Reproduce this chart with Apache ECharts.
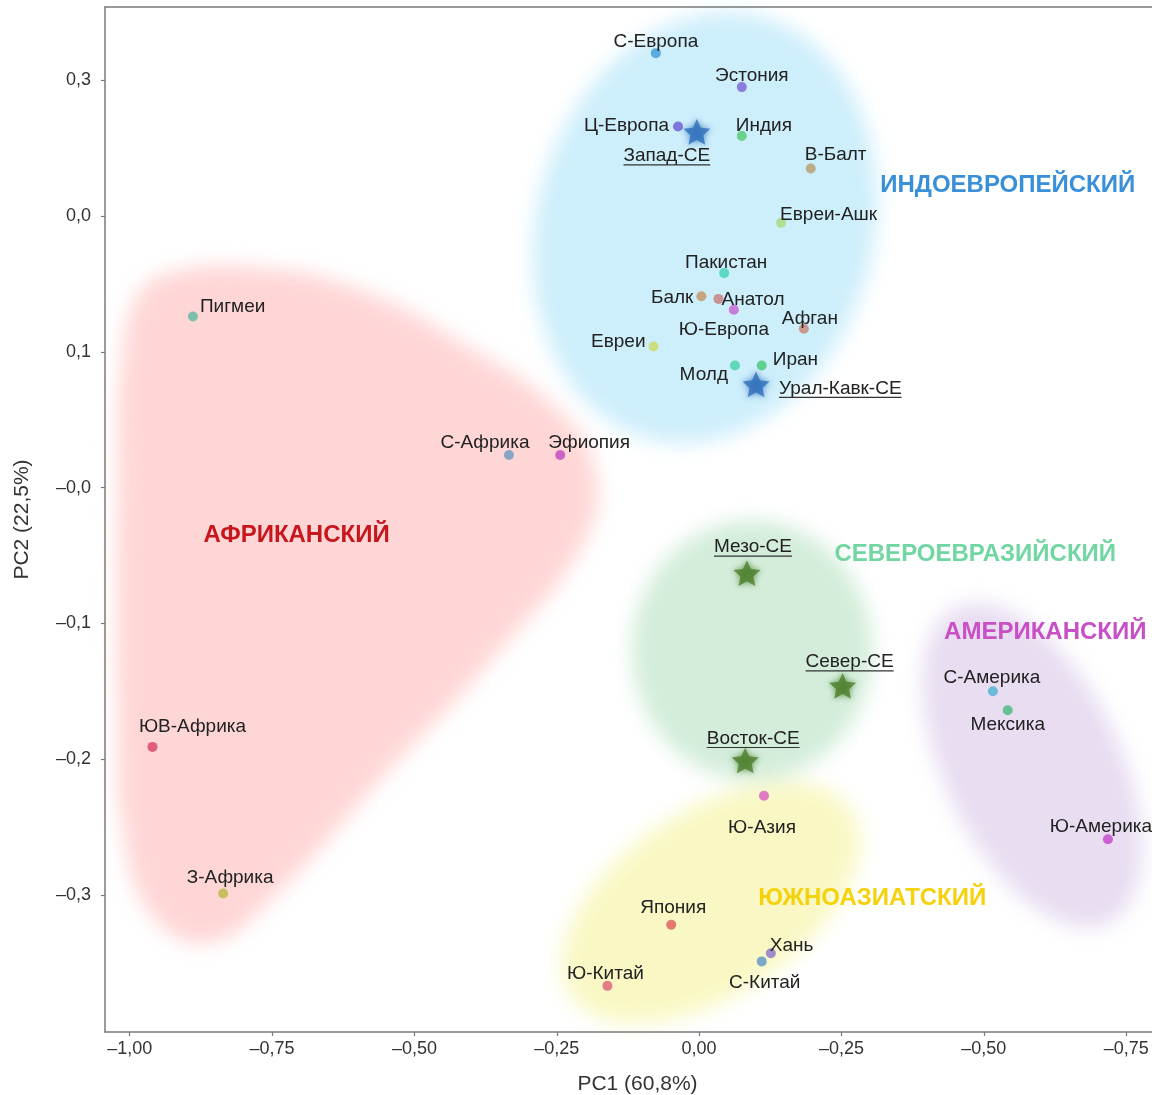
<!DOCTYPE html>
<html>
<head>
<meta charset="utf-8">
<script src="https://cdn.jsdelivr.net/npm/echarts@6/dist/echarts.min.js"></script>
<style>
  html, body { margin: 0; padding: 0; background: #fff; }
  #wrap { position: relative; width: 1152px; height: 1095px; overflow: hidden; }
  #regions, #main { position: absolute; left: 0; top: 0; width: 1152px; height: 1095px; }
  #regions { filter: blur(10px); }
</style>
</head>
<body>
<div id="wrap"><div id="regions"></div><div id="main"></div></div>
<script>
// ---- populations (PC1 / PC2 scores) ----
const popNames = ['С-Европа','Эстония','Ц-Европа','Индия','В-Балт','Евреи-Ашк','Пакистан','Балк','Анатол','Ю-Европа','Афган','Евреи','Молд','Иран','Пигмеи','С-Африка','Эфиопия','С-Америка','Мексика','Ю-Америка','ЮВ-Африка','З-Африка','Ю-Азия','Япония','Хань','С-Китай','Ю-Китай'];
const popPC1 = [-0.076, 0.075, -0.037, 0.075, 0.196, 0.144, 0.044, 0.004, 0.034, 0.061, 0.184, -0.080, 0.063, 0.110, -0.889, -0.334, -0.244, 0.516, 0.542, 0.718, -0.960, -0.836, 0.114, -0.049, 0.126, 0.110, -0.161];
const popPC2 = [0.320, 0.295, 0.266, 0.259, 0.235, 0.195, 0.158, 0.141, 0.139, 0.131, 0.117, 0.104, 0.090, 0.090, 0.126, 0.024, 0.024, -0.150, -0.164, -0.259, -0.191, -0.299, -0.227, -0.322, -0.343, -0.349, -0.367];

// ---- ancestral components (stars) ----
const compNames = ['Запад-СЕ','Урал-Кавк-СЕ','Мезо-СЕ','Север-СЕ','Восток-СЕ'];
const compPC1 = [-0.004, 0.100, 0.084, 0.252, 0.081];
const compPC2 = [0.262, 0.076, -0.063, -0.146, -0.201];

// ---- group captions ----
const groupNames = ['ИНДОЕВРОПЕЙСКИЙ','АФРИКАНСКИЙ','СЕВЕРОЕВРАЗИЙСКИЙ','АМЕРИКАНСКИЙ','ЮЖНОАЗИАТСКИЙ'];
const groupPC1 = [0.542, -0.707, 0.485, 0.608, 0.304];
const groupPC2 = [0.224, -0.034, -0.048, -0.105, -0.301];

// ---- group regions: ellipses as centre + two conjugate semi-diameters (PC units) ----
const regionCenterPC1 = [0.0104, 0.093, 0.0209, 0.585];
const regionCenterPC2 = [0.1914, -0.1198, -0.3057, -0.2046];
const regionAxisA = [[0.0991, 0.1553], [0.2109, 0], [0.2462, 0.0684], [0.1341, -0.1163]];
const regionAxisB = [[0.2852, -0.0321], [0, 0.0959], [0.0892, -0.0566], [0.1393, 0.0283]];
// African region outline
const africaPC1 = [-0.9297, -0.7888, -0.5959, -0.4026, -0.2444, -0.1829, -0.2005, -0.3499, -0.5607, -0.7540, -0.8594, -0.9561, -1.0088, -1.0211, -1.0211, -1.0141, -0.9860];
const africaPC2 = [0.1580, 0.1625, 0.1460, 0.1030, 0.0560, 0.0129, -0.0387, -0.1198, -0.2157, -0.3042, -0.3352, -0.3175, -0.2600, -0.1567, -0.0092, 0.0920, 0.1410];

// ---- axis ticks ----
const xTickValues = [-1, -0.75, -0.5, -0.25, 0, 0.25, 0.5, 0.75];
const xTickLabels = ['–1,00','–0,75','–0,50','–0,25','0,00','–0,25','–0,50','–0,75'];
const yTickValues = [-0.3, -0.2, -0.1, 0, 0.1, 0.2, 0.3];
const yTickLabels = ['–0,3','–0,2','–0,1','–0,0','0,1','0,0','0,3'];

// ---- styling ----
const popColors = ['#3d9ad8','#7b5fd6','#6b58d6','#4fcb6c','#b59d6b','#a9d97c','#3fd3b4','#c39462','#c97a7a','#c760cf','#c98473','#c9d965','#45d0aa','#43c874','#5cb9a3','#6b98c2','#c244c2','#4cb2d3','#45ba7b','#c444c9','#da3d66','#b9ba43','#d95ac2','#de5a57','#8a72c9','#5b92c9','#e05a7a'];
const compColors = ['#2f6fba','#2f6fba','#4e7f2d','#4e7f2d','#4e7f2d'];
const groupColors = ['#3a8fd9','#c8161d','#72d6a2','#c84fc6','#f6d20c'];
const regionColors = ['#cdeefb','#d3edda','#f9f8c4','#e8ddf1'];
const africaColor = '#ffd6d6';

// label anchor relative to the mark centre: [dx, dy, align]
const labelPlacement = {
  'С-Европа': [0, -13, 'center'], 'Эстония': [10, -13, 'center'], 'Ц-Европа': [-9, -3, 'right'],
  'Индия': [-6, -12, 'left'], 'В-Балт': [-6, -16, 'left'], 'Евреи-Ашк': [-1, -10, 'left'],
  'Пакистан': [2, -12, 'center'], 'Балк': [-8, 0, 'right'], 'Анатол': [3, -1, 'left'],
  'Ю-Европа': [-10, 18, 'center'], 'Афган': [6, -12, 'center'], 'Евреи': [-8, -7, 'right'],
  'Молд': [-7, 7, 'right'], 'Иран': [11, -8, 'left'], 'Пигмеи': [7, -12, 'left'],
  'С-Африка': [-24, -14, 'center'], 'Эфиопия': [29, -14, 'center'], 'С-Америка': [-1, -15, 'center'],
  'Мексика': [0, 13, 'center'], 'Ю-Америка': [-7, -14, 'center'], 'ЮВ-Африка': [40, -22, 'center'],
  'З-Африка': [7, -18, 'center'], 'Ю-Азия': [-2, 30, 'center'], 'Япония': [2, -19, 'center'],
  'Хань': [-1, -9, 'left'], 'С-Китай': [3, 19, 'center'], 'Ю-Китай': [-2, -14, 'center'],
  'Запад-СЕ': [-30, 22, 'center'], 'Урал-Кавк-СЕ': [23, 2, 'left'], 'Мезо-СЕ': [6, -28, 'center'],
  'Север-СЕ': [7, -26, 'center'], 'Восток-СЕ': [8, -24, 'center']
};

const FONT_FAMILY = '"Liberation Sans", Arial, Helvetica, sans-serif';
const LABEL_FONT = '19px ' + FONT_FAMILY;
const GROUP_FONT = 'bold 24px ' + FONT_FAMILY;
const AXIS_COLOR = '#7a7a7a';
const TEXT_NUDGE = 2; // optical correction: 'middle' sits a little high for mixed-case text

// fixed plot box; outer bounds handling off so axis names never shrink it
const gridBox = { left: 105, top: 7, right: 0, bottom: 63, outerBoundsMode: 'none', containLabel: false };
const X_MIN = -1.0434, X_MAX = 0.7954, Y_MIN = -0.401, Y_MAX = 0.354;

function tickText(values, labels, v) {
  for (let i = 0; i < values.length; i++) if (Math.abs(values[i] - v) < 1e-6) return labels[i];
  return '';
}

function starPath() {
  const pts = [];
  for (let k = 0; k < 10; k++) {
    const r = k % 2 === 0 ? 1 : 0.48;
    const a = -Math.PI / 2 + k * Math.PI / 5;
    pts.push((r * Math.cos(a)).toFixed(4) + ' ' + (r * Math.sin(a)).toFixed(4));
  }
  return 'path://M' + pts.join(' L') + ' Z';
}

const measureCtx = document.createElement('canvas').getContext('2d');
function textWidth(t, font) { measureCtx.font = font; return measureCtx.measureText(t).width; }

function axes(visible) {
  const line = { show: visible, onZero: false, lineStyle: { color: AXIS_COLOR, width: 1.5 } };
  return {
    xAxis: [{
      type: 'value', min: X_MIN, max: X_MAX, position: 'bottom',
      splitLine: { show: false },
      axisLine: line,
      axisTick: { show: visible, customValues: xTickValues, length: 4, lineStyle: { color: AXIS_COLOR, width: 1.2 } },
      axisLabel: { show: visible, customValues: xTickValues, margin: 8, color: '#333', fontSize: 18, fontFamily: FONT_FAMILY,
                   formatter: v => tickText(xTickValues, xTickLabels, v) },
      name: visible ? 'PC1 (60,8%)' : '', nameLocation: 'middle', nameGap: 42,
      nameTextStyle: { color: '#333', fontSize: 21, fontFamily: FONT_FAMILY, padding: [0, 0, 0, 18] }
    }, {
      // plain frame line along the top edge
      type: 'value', min: X_MIN, max: X_MAX, position: 'top',
      splitLine: { show: false }, axisTick: { show: false }, axisLabel: { show: false },
      axisLine: line
    }],
    yAxis: {
      type: 'value', min: Y_MIN, max: Y_MAX,
      splitLine: { show: false },
      axisLine: line,
      axisTick: { show: visible, customValues: yTickValues, length: 4, lineStyle: { color: AXIS_COLOR, width: 1.2 } },
      axisLabel: { show: visible, customValues: yTickValues, margin: 14, color: '#333', fontSize: 18, fontFamily: FONT_FAMILY,
                   formatter: v => tickText(yTickValues, yTickLabels, v) },
      name: visible ? 'PC2 (22,5%)' : '', nameLocation: 'middle', nameGap: 72, nameRotate: 90,
      nameTextStyle: { color: '#333', fontSize: 21, fontFamily: FONT_FAMILY }
    }
  };
}

// ---- soft group regions (blurred layer) ----
const regionChart = echarts.init(document.getElementById('regions'), null, { renderer: 'canvas' });
regionChart.setOption(Object.assign({
  animation: false,
  grid: Object.assign({ show: false }, gridBox),
  series: [
    {
      type: 'custom', clip: false,
      data: regionCenterPC1.map((x, i) => [x, regionCenterPC2[i]]),
      renderItem: (params, api) => {
        const i = params.dataIndex;
        const cx = api.value(0), cy = api.value(1);
        const a = regionAxisA[i], b = regionAxisB[i];
        const pts = [];
        for (let k = 0; k < 90; k++) {
          const t = 2 * Math.PI * k / 90;
          pts.push(api.coord([cx + a[0] * Math.cos(t) + b[0] * Math.sin(t), cy + a[1] * Math.cos(t) + b[1] * Math.sin(t)]));
        }
        return { type: 'polygon', shape: { points: pts }, style: { fill: regionColors[i] } };
      }
    },
    {
      type: 'custom', clip: false,
      data: [[africaPC1[0], africaPC2[0]]],
      renderItem: (params, api) => {
        const pts = africaPC1.map((x, i) => api.coord([x, africaPC2[i]]));
        return { type: 'polygon', shape: { points: pts, smooth: 0.45 }, style: { fill: africaColor } };
      }
    }
  ]
}, axes(false)));

// ---- main chart ----
const chart = echarts.init(document.getElementById('main'), null, { renderer: 'canvas' });
chart.setOption(Object.assign({
  animation: false,
  backgroundColor: 'transparent',
  grid: Object.assign({ show: false }, gridBox),
  series: [
    {
      name: 'populations', type: 'scatter', symbolSize: 10, z: 3,
      data: popPC1.map((x, i) => ({ value: [x, popPC2[i]], name: popNames[i], itemStyle: { color: popColors[i] } }))
    },
    {
      name: 'components', type: 'scatter', symbol: starPath(), symbolSize: 27, symbolKeepAspect: true, z: 4,
      data: compPC1.map((x, i) => ({
        value: [x, compPC2[i]], name: compNames[i],
        itemStyle: { color: compColors[i], shadowBlur: 6, shadowColor: compColors[i] }
      }))
    },
    {
      name: 'population labels', type: 'custom', clip: false, z: 5,
      data: popPC1.map((x, i) => [x, popPC2[i]]),
      renderItem: (params, api) => {
        const name = popNames[params.dataIndex];
        const p = api.coord([api.value(0), api.value(1)]);
        const pl = labelPlacement[name];
        return { type: 'text', x: p[0] + pl[0], y: p[1] + pl[1] + TEXT_NUDGE,
                 style: { text: name, font: LABEL_FONT, fill: '#222', align: pl[2], verticalAlign: 'middle' } };
      }
    },
    {
      name: 'component labels', type: 'custom', clip: false, z: 5,
      data: compPC1.map((x, i) => [x, compPC2[i]]),
      renderItem: (params, api) => {
        const name = compNames[params.dataIndex];
        const p = api.coord([api.value(0), api.value(1)]);
        const pl = labelPlacement[name];
        const w = textWidth(name, LABEL_FONT);
        const ax = p[0] + pl[0], ay = p[1] + pl[1] + TEXT_NUDGE;
        const x0 = pl[2] === 'left' ? ax : pl[2] === 'right' ? ax - w : ax - w / 2;
        return { type: 'group', children: [
          { type: 'text', x: ax, y: ay, style: { text: name, font: LABEL_FONT, fill: '#222', align: pl[2], verticalAlign: 'middle' } },
          { type: 'line', shape: { x1: x0, y1: ay + 9, x2: x0 + w, y2: ay + 9 }, style: { stroke: '#333', lineWidth: 1.2 } }
        ] };
      }
    },
    {
      name: 'group captions', type: 'custom', clip: false, z: 5,
      data: groupPC1.map((x, i) => [x, groupPC2[i]]),
      renderItem: (params, api) => {
        const i = params.dataIndex;
        const p = api.coord([api.value(0), api.value(1)]);
        return { type: 'text', x: p[0], y: p[1] + TEXT_NUDGE,
                 style: { text: groupNames[i], font: GROUP_FONT, fill: groupColors[i], align: 'center', verticalAlign: 'middle' } };
      }
    }
  ]
}, axes(true)));
</script>
</body>
</html>
